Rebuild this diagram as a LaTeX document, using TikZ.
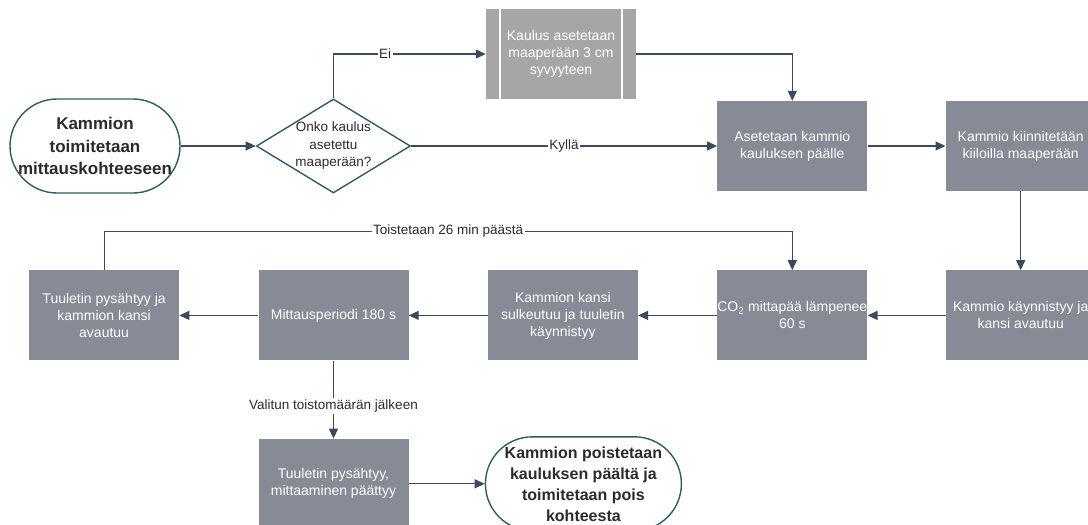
\documentclass[tikz,border=0pt]{standalone}
\usepackage{fontspec}
\setmainfont{Liberation Sans}
\usepackage{xcolor}
\definecolor{cBox}{HTML}{868B95}
\definecolor{cPre}{HTML}{A6A6A6}
\definecolor{cLine}{HTML}{3B4A5C}
\definecolor{cTerm}{HTML}{2E5E64}
\definecolor{cText}{HTML}{2B2B2B}
\usepackage{tikz}
\usetikzlibrary{positioning,arrows.meta,shapes.geometric}
\tikzset{
  node-box/.style={fill=cBox,minimum width=150pt,minimum height=90pt,
    inner sep=0pt,align=center,text=white,font=\fontsize{14}{17}\selectfont},
  node-pre/.style={node-box,fill=cPre,
    path picture={
      \draw[white,line width=1.5pt]
        ([xshift=14pt]path picture bounding box.north west) --
        ([xshift=14pt]path picture bounding box.south west);
      \draw[white,line width=1.5pt]
        ([xshift=-14pt]path picture bounding box.north east) --
        ([xshift=-14pt]path picture bounding box.south east);}},
  node-term/.style={draw=cTerm,line width=1.4pt,fill=white,
    rounded corners=47pt,minimum width=170pt,minimum height=94pt,
    inner sep=0pt,align=center,text=cText,
    font=\bfseries\fontsize{17}{22.5}\selectfont},
  node-term-end/.style={minimum width=196pt,font=\bfseries\fontsize{16}{21}\selectfont},
  node-dec/.style={draw=cTerm,line width=1.4pt,fill=white,diamond,
    minimum width=154pt,minimum height=94pt,inner sep=0pt},
  node-dec-txt/.style={align=center,text=cText,inner sep=0pt,
    font=\fontsize{13.5}{17.5}\selectfont},
  arrow/.style={-{Triangle[length=10pt,width=9pt]},line width=1.2pt,draw=cLine},
  edge-label/.style={fill=white,inner sep=1.5pt,text=cText,
    font=\fontsize{13.5}{17}\selectfont},
}

\begin{document}
\begin{tikzpicture}[x=1pt,y=1pt,node distance=79pt and 79pt]
  \useasboundingbox (0,0) rectangle (1088,-525);
  \clip (0,0) rectangle (1088,-525);
  % ylarivi
  \node[node-term] (start) at (95,-146) {Kammion\\toimitetaan\\mittauskohteeseen};
  \node[node-dec,right=75pt of start,
    label={[node-dec-txt]center:Onko kaulus\\asetettu\\maaperään?}] (dec) {};
  \node[node-box,right=306pt of dec] (kaul) {Asetetaan kammio\\kauluksen päälle};
  \node[node-box,right=78pt of kaul] (kiil) {Kammio kiinnitetään\\kiiloilla maaperään};
  \node[node-pre] (syv) at (561,-54) {Kaulus asetetaan\\maaperään 3 cm\\syvyyteen};
  % alarivi
  \node[node-box,below=of kiil]      (kayn)  {Kammio käynnistyy ja\\kansi avautuu};
  \node[node-box,left=78pt of kayn]  (co2)   {CO\textsubscript{2} mittapää lämpenee\\60 s};
  \node[node-box,left=of co2]        (kansi) {Kammion kansi\\sulkeutuu ja tuuletin\\käynnistyy};
  \node[node-box,left=of kansi]      (mitt)  {Mittausperiodi 180 s};
  \node[node-box,left=of mitt]       (tuul)  {Tuuletin pysähtyy ja\\kammion kansi\\avautuu};
  \node[node-box,below=78pt of mitt] (loppu) {Tuuletin pysähtyy,\\mittaaminen päättyy};
  \node[node-term,node-term-end,right=76pt of loppu] (pois)
    {Kammion poistetaan\\kauluksen päältä ja\\toimitetaan pois\\kohteesta};
  % nuolet
  \draw[arrow] (start) -- (dec);
  \draw[arrow] (dec.north) |- node[edge-label,pos=0.67] {Ei} (syv.west);
  \draw[arrow] (dec.east) -- node[edge-label] {Kyllä} (kaul.west);
  \draw[arrow] (syv.east) -| (kaul.north);
  \draw[arrow] (kaul) -- (kiil);
  \draw[arrow] (kiil) -- (kayn);
  \draw[arrow] (kayn) -- (co2);
  \draw[arrow] (co2) -- (kansi);
  \draw[arrow] (kansi) -- (mitt);
  \draw[arrow] (mitt) -- (tuul);
  \draw[arrow] (tuul.north) -- ++(0,39) -| node[edge-label,pos=0.25] {Toistetaan 26 min päästä} (co2.north);
  \draw[arrow] (mitt) -- node[edge-label,pos=0.58] {Valitun toistomäärän jälkeen} (loppu);
  \draw[arrow] (loppu) -- (pois);
\end{tikzpicture}
\end{document}
